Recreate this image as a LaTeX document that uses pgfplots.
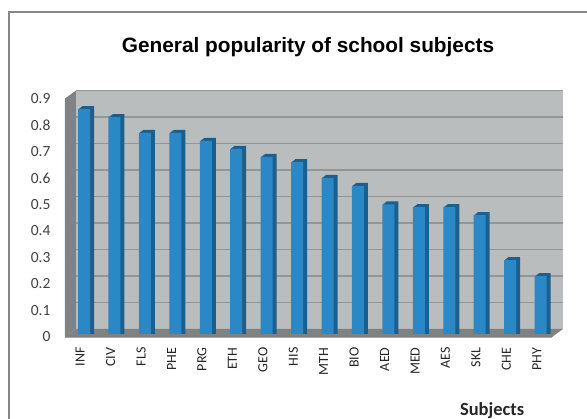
\documentclass[border=0pt]{standalone}
\usepackage{pgfplots}
\usepackage{fontspec}
\setmainfont{Carlito}
\newfontfamily\titlefont{Liberation Sans}
\pgfplotsset{compat=1.18}

\definecolor{wallback}{HTML}{BABDBE}
\definecolor{wallside}{HTML}{808385}
\definecolor{floorc}{HTML}{7F8283}
\definecolor{gridc}{HTML}{939596}
\definecolor{axisc}{HTML}{A6A6A6}
\definecolor{barfront}{HTML}{2B88C6}
\definecolor{barside}{HTML}{1B5F8E}
\definecolor{framec}{HTML}{868686}
\definecolor{tickc}{HTML}{404040}

\begin{document}
\begin{tikzpicture}[x=1pt,y=1pt]
\path[use as bounding box] (-65,-82) rectangle (522,337);
\draw[framec,line width=2pt] (-56,-95) -- (-56,325) -- (530,325);
\begin{axis}[
    scale only axis,
    width=487pt, height=238.5pt,
    xmin=-0.5, xmax=15.5,
    ymin=0, ymax=0.9,
    clip=false,
    axis x line*=bottom, axis y line*=left,
    axis line style={axisc,-},
    xtick={0,...,15},
    xticklabels={INF,CIV,FLS,PHE,PRG,ETH,GEO,HIS,MTH,BIO,AED,MED,AES,SKL,CHE,PHY},
    major x tick style={draw=none},
    minor xtick={-0.5,0.5,...,15.5},
    minor tick length=5pt,
    minor tick style={axisc},
    xticklabel style={rotate=90,anchor=east,font=\fontsize{14}{15}\selectfont,text=black!85,xshift=-7pt},
    ytick={0,0.1,...,0.9},
    yticklabel style={/pgf/number format/fixed,/pgf/number format/assume math mode=true,font=\fontsize{15.5}{16}\selectfont,text=tickc,xshift=-11pt},
    major y tick style={axisc},
    major tick length=5pt,
    title={\titlefont\bfseries General popularity of school subjects},
    title style={at={(rel axis cs:0.499,1.19)},anchor=center,font=\fontsize{20.8}{24}\selectfont},
    xlabel={\textbf{Subjects}},
    xlabel style={at={(rel axis cs:0.877,-0.309)},anchor=center,font=\fontsize{18.5}{20}\selectfont,text=black!85},
]
% walls and floor, pushed back by 11px / 8px
\addplot[draw=none,fill=wallback] coordinates {(-0.139,0.0302)(15.861,0.0302)(15.861,0.9302)(-0.139,0.9302)} -- cycle;
\addplot[draw=none,fill=wallside] coordinates {(-0.5,0)(-0.139,0.0302)(-0.139,0.9302)(-0.5,0.9)} -- cycle;
\addplot[draw=none,fill=floorc] coordinates {(-0.5,0)(15.5,0)(15.861,0.0302)(-0.139,0.0302)} -- cycle;
% gridlines on the back wall
\pgfplotsinvokeforeach{0.1302,0.2302,0.3302,0.4302,0.5302,0.6302,0.7302,0.8302,0.9302}{
  \addplot[gridc,line width=1.5pt] coordinates {(-0.139,#1)(15.861,#1)};
}
% depth of the bars, as shifted copies
\pgfplotstableread{
x y
0 0.86
1 0.83
2 0.77
3 0.77
4 0.74
5 0.71
6 0.68
7 0.66
8 0.60
9 0.57
10 0.50
11 0.49
12 0.49
13 0.46
14 0.29
15 0.23
}\subjects
\pgfplotsinvokeforeach{7.8,6.8,5.8,4.8}{
  \addplot[ybar,bar width=12pt,draw=none,fill=barside,xshift=#1pt,yshift=(#1-3.8)*0.75pt] table[x=x,y=y] {\subjects};
}
\addplot[ybar,bar width=12pt,draw=none,fill=barfront,xshift=3.8pt] table[x=x,y=y] {\subjects};
% front strip of the floor hides the bar feet
\addplot[draw=none,fill=floorc] coordinates {(-0.5,0)(15.5,0)(15.5,0.0113)(-0.5,0.0113)} -- cycle;
\end{axis}
\end{tikzpicture}
\end{document}
